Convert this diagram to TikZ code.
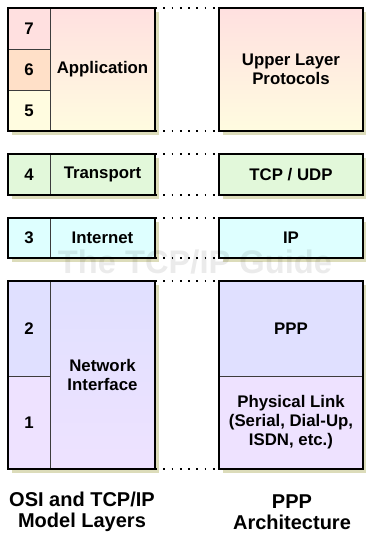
\documentclass[tikz,border=0pt]{standalone}
\usepackage{fontspec}
\setmainfont{Liberation Sans}
\usetikzlibrary{positioning,backgrounds}
\definecolor{sevenc}{RGB}{255,224,224}
\definecolor{sixc}{RGB}{255,224,200}
\definecolor{fivec}{RGB}{255,252,224}
\definecolor{fourc}{RGB}{226,248,218}
\definecolor{threec}{RGB}{222,255,255}
\definecolor{twoc}{RGB}{224,224,255}
\definecolor{onec}{RGB}{238,226,255}
\definecolor{khaki}{RGB}{220,220,186}
\definecolor{divider}{RGB}{60,60,60}
\tikzset{
  cell/.style={draw=divider,line width=0.7pt,inner sep=0pt,outer sep=0pt,align=center,
    font=\bfseries\fontsize{12.6}{14.3}\selectfont},
  numcell/.style={cell,minimum width=31.5pt},
  namecell/.style={cell,minimum width=78.75pt},
  pppcell/.style={cell,minimum width=108pt},
  frame/.style={draw=black,line width=1.3pt},
  dots/.style={line width=1.4pt,dash pattern=on 1.4pt off 4.8pt}
}

\begin{document}
\begin{tikzpicture}[x=0.75pt,y=-0.75pt]
  \useasboundingbox (0,0) rectangle (366,533);

  % application layers
  \node[numcell,fill=sevenc,minimum height=30.75pt,anchor=north west] (n7) at (8,8) {7};
  \node[numcell,fill=sixc,minimum height=30.75pt,below=0pt of n7] (n6) {6};
  \node[numcell,fill=fivec,minimum height=30.75pt,below=0pt of n6] (n5) {5};
  \node[namecell,top color=sevenc,bottom color=fivec,minimum height=92.25pt,right=0pt of n6] (app) {Application};
  \node[pppcell,top color=sevenc,bottom color=fivec,minimum height=92.25pt,anchor=north west] (upper) at (219,8) {Upper Layer\\Protocols};

  % transport
  \node[numcell,fill=fourc,minimum height=30.75pt,anchor=north west] (n4) at (8,154) {4};
  \node[namecell,fill=fourc,minimum height=30.75pt,right=0pt of n4] (trans) {Transport};
  \node[pppcell,fill=fourc,minimum height=30.75pt,anchor=north west] (tcp) at (219,154) {TCP / UDP};

  % internet
  \node[numcell,fill=threec,minimum height=30pt,anchor=north west] (n3) at (8,218) {3};
  \node[namecell,fill=threec,minimum height=30pt,right=0pt of n3] (inet) {Internet};
  \node[pppcell,fill=threec,minimum height=30pt,anchor=north west] (ip) at (219,218) {IP};

  % network interface
  \node[numcell,fill=twoc,minimum height=71.25pt,anchor=north west] (n2) at (8,281) {2};
  \node[numcell,fill=onec,minimum height=69.75pt,below=0pt of n2] (n1) {1};
  \node[namecell,top color=twoc,bottom color=onec,minimum height=141pt,anchor=north west] (netif) at (n2.north east) {Network\\Interface};
  \node[pppcell,fill=twoc,minimum height=71.25pt,anchor=north west] (ppp) at (219,281) {PPP};
  \node[pppcell,fill=onec,minimum height=69.75pt,below=0pt of ppp] (phys) {Physical Link\\(Serial, Dial-Up,\\ISDN, etc.)};

  % outer frames
  \draw[frame] (n7.north west) rectangle (app.south east);
  \draw[frame] (upper.north west) rectangle (upper.south east);
  \draw[frame] (n4.north west) rectangle (trans.south east);
  \draw[frame] (tcp.north west) rectangle (tcp.south east);
  \draw[frame] (n3.north west) rectangle (inet.south east);
  \draw[frame] (ip.north west) rectangle (ip.south east);
  \draw[frame] (n2.north west) rectangle (netif.south east);
  \draw[frame] (ppp.north west) rectangle (phys.south east);

  % shadows
  \begin{scope}[on background layer]
    \fill[khaki] ([shift={(4,4)}]n7.north west) rectangle ([shift={(4,4)}]app.south east);
    \fill[khaki] ([shift={(4,4)}]upper.north west) rectangle ([shift={(4,4)}]upper.south east);
    \fill[khaki] ([shift={(4,4)}]n4.north west) rectangle ([shift={(4,4)}]trans.south east);
    \fill[khaki] ([shift={(4,4)}]tcp.north west) rectangle ([shift={(4,4)}]tcp.south east);
    \fill[khaki] ([shift={(4,4)}]n3.north west) rectangle ([shift={(4,4)}]inet.south east);
    \fill[khaki] ([shift={(4,4)}]ip.north west) rectangle ([shift={(4,4)}]ip.south east);
    \fill[khaki] ([shift={(4,4)}]n2.north west) rectangle ([shift={(4,4)}]netif.south east);
    \fill[khaki] ([shift={(4,4)}]ppp.north west) rectangle ([shift={(4,4)}]phys.south east);
  \end{scope}

  % dotted links
  \draw[dots] (app.north east) -- (upper.north west);
  \draw[dots] (app.south east) -- (upper.south west);
  \draw[dots] (trans.north east) -- (tcp.north west);
  \draw[dots] (trans.south east) -- (tcp.south west);
  \draw[dots] (inet.north east) -- (ip.north west);
  \draw[dots] (inet.south east) -- (ip.south west);
  \draw[dots] (netif.north east) -- (ppp.north west);
  \draw[dots] (netif.south east) -- (phys.south west);

  % watermark
  \node[font=\bfseries\fontsize{24.5}{24.5}\selectfont,text=black,opacity=0.08,inner sep=0pt] (mark) at (195,262) {The TCP/IP Guide};

  % captions
  \node[font=\bfseries\fontsize{15}{15.8}\selectfont,align=center] (osi) at (82,512) {OSI and TCP/IP\\Model Layers};
  \node[font=\bfseries\fontsize{15}{15.8}\selectfont,align=center] (arch) at (292,512) {PPP\\Architecture};
\end{tikzpicture}
\end{document}
